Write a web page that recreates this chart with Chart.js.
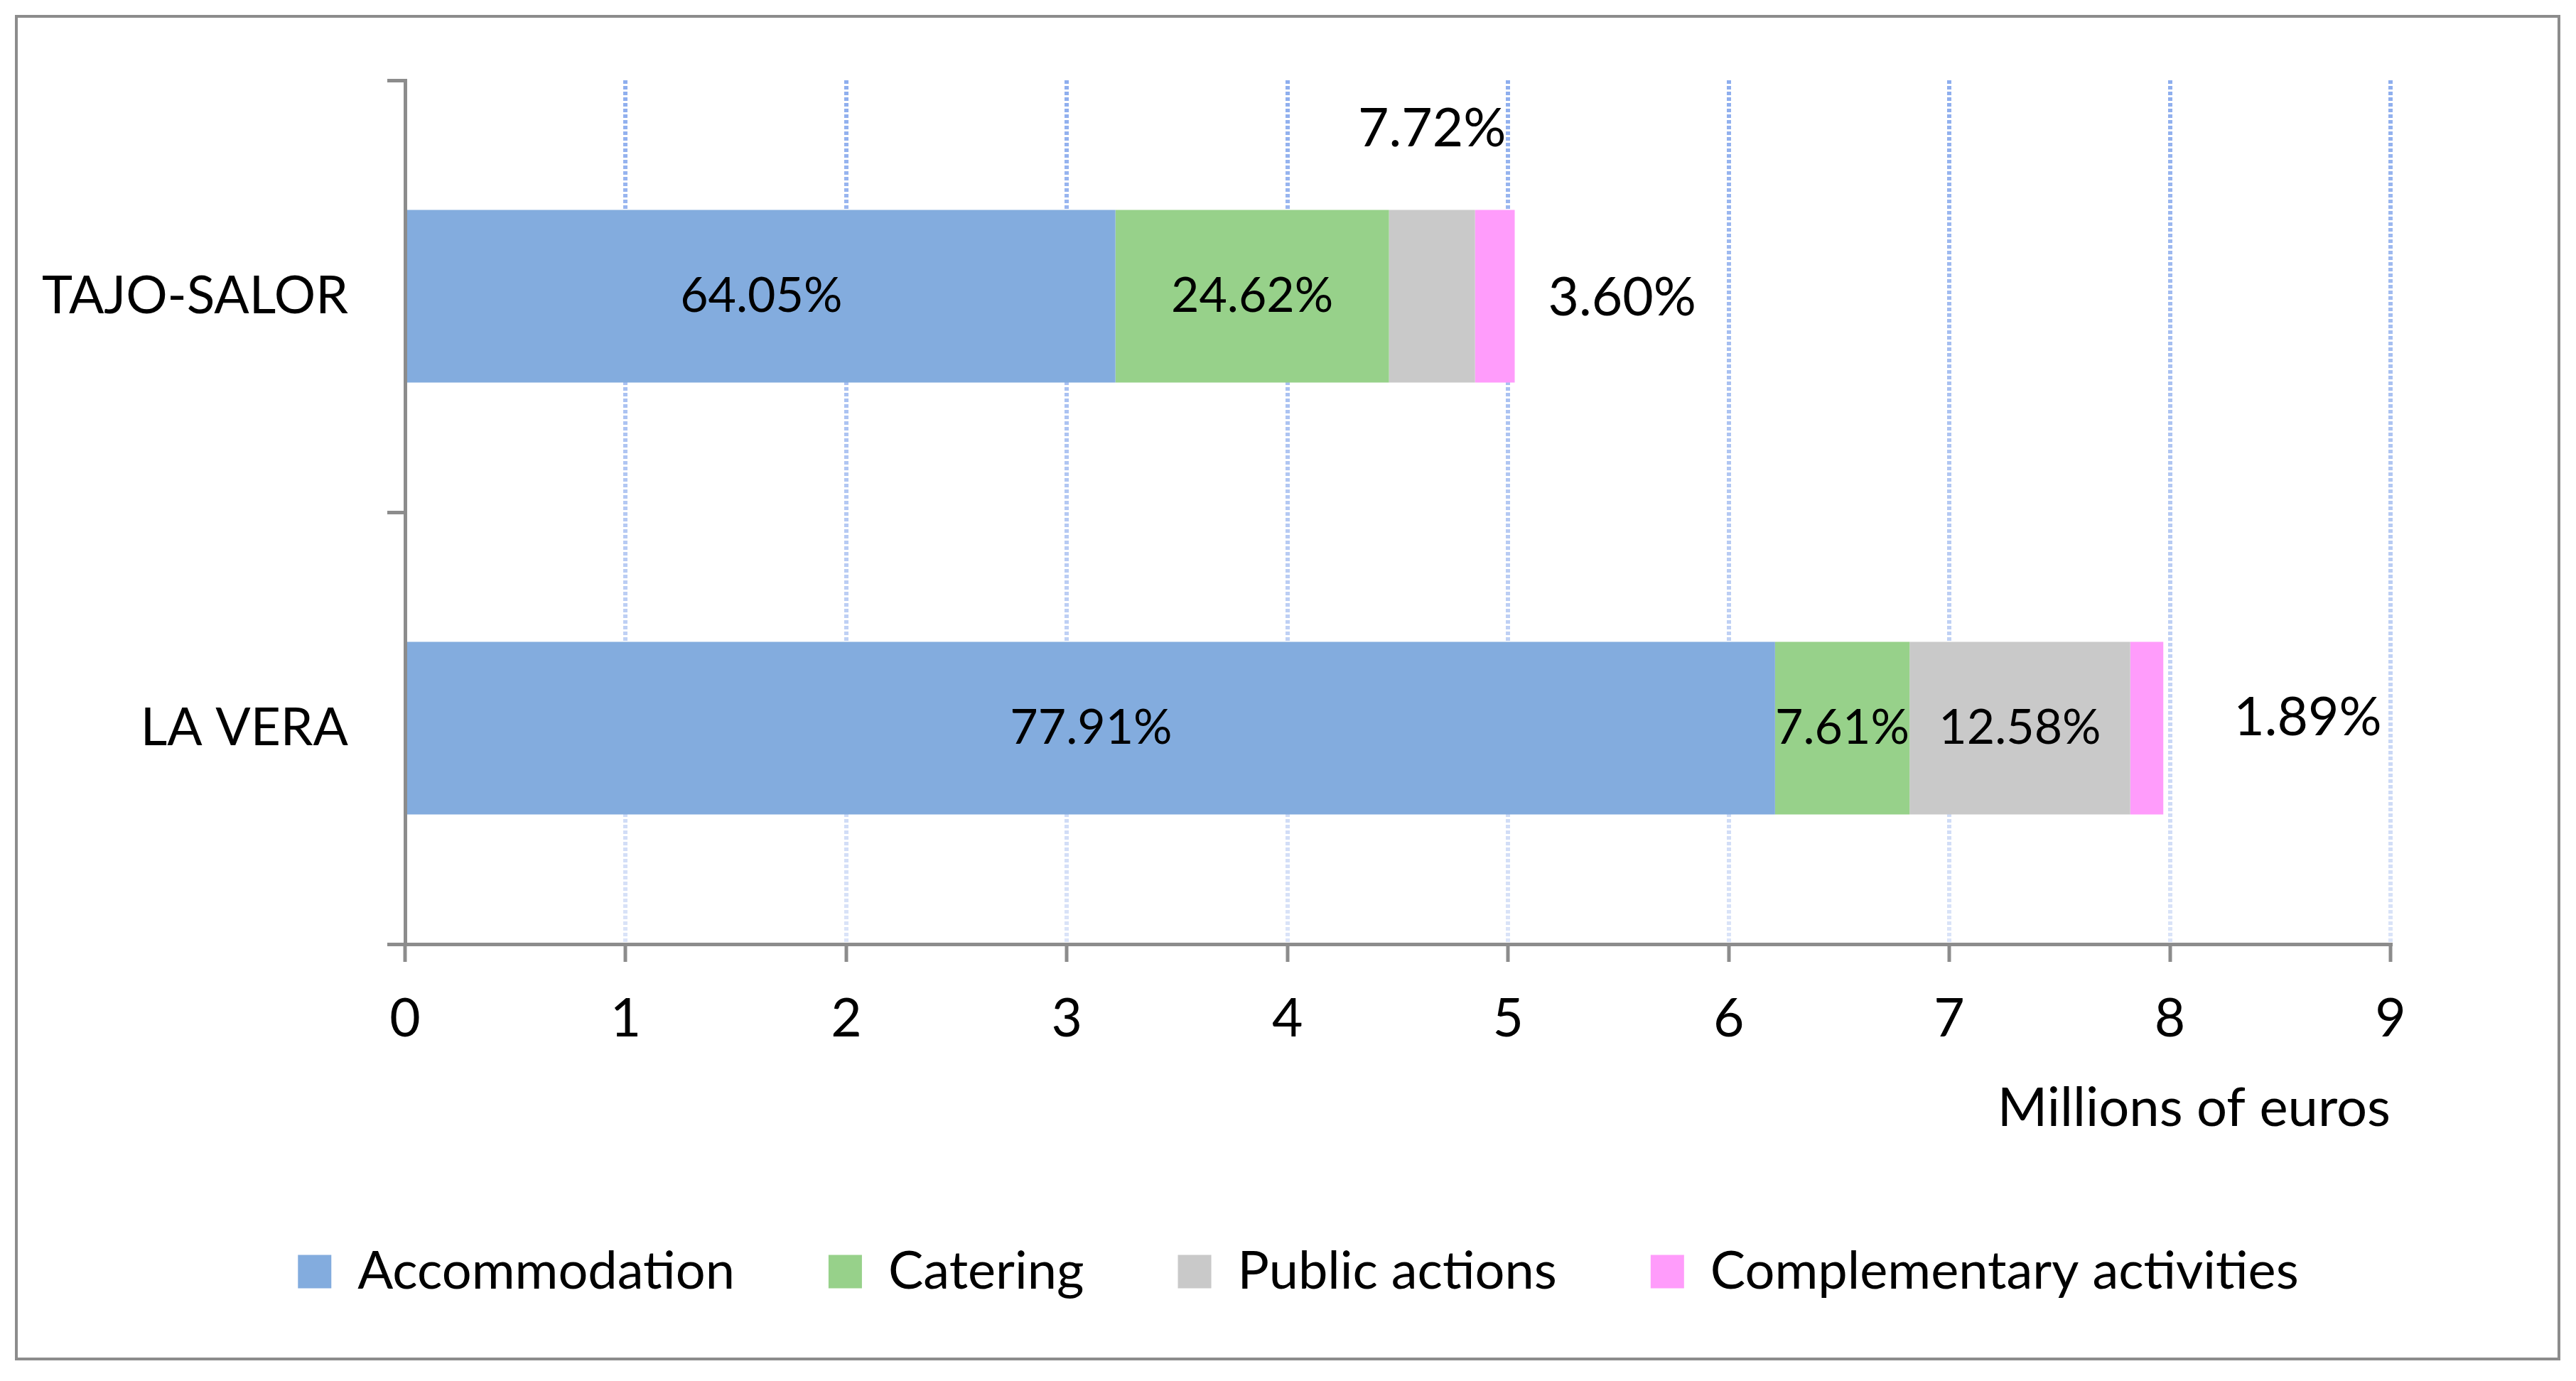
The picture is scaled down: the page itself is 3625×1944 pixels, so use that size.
<!DOCTYPE html>
<html>
<head>
<meta charset="utf-8">
<script src="https://cdn.jsdelivr.net/npm/chart.js@4.4.1/dist/chart.umd.min.js"></script>
<style>
    html, body { margin: 0; padding: 0; background: #fff; }
    #wrap { position: relative; width: 3625px; height: 1944px; }
    #frame { position: absolute; left: 21px; top: 21px; width: 3574px; height: 1886px; border: 4px solid #8c8c8c; }
    canvas { position: absolute; left: 0; top: 0; }
</style>
</head>
<body>
<div id="wrap">
    <canvas id="costChart" width="3625" height="1944"></canvas>
    <div id="frame"></div>
</div>
<script>
//данные
const regions = ['TAJO-SALOR', 'LA VERA'];
const seriesNames = ['Accommodation', 'Catering', 'Public actions', 'Complementary activities'];
const seriesColors = ['#83acde', '#97d18a', '#c9c9c9', '#ff9cfb'];

// millions of euros
const accommodation = [3.22, 6.21];
const catering = [1.24, 0.61];
const publicActions = [0.39, 1.00];
const complementary = [0.18, 0.15];

// share of each region's total, as printed on the bars
const accommodationPct = ['64.05%', '77.91%'];
const cateringPct = ['24.62%', '7.61%'];
const publicPct = ['7.72%', '12.58%'];
const complementaryPct = ['3.60%', '1.89%'];

const xMin = 0;
const xMax = 9;
const xStep = 1;

const seriesValues = [accommodation, catering, publicActions, complementary];
const seriesPct = [accommodationPct, cateringPct, publicPct, complementaryPct];

// где стоит подпись: внутри, над сегментом или справа от полосы
const labelPlaces = [
    ['inside', 'inside'],
    ['inside', 'inside'],
    ['above', 'inside'],
    ['right', 'right']
];
const rightGap = [47, 99];
const rightShift = [3, -14];
const legendCenter = 1827;

Chart.defaults.font.family = 'Lato, "Open Sans", sans-serif';
Chart.defaults.color = '#000';

//подписи процентов
const pctLabels = {
    id: 'pctLabels',
    afterLayout(chart) {
        // легенда по центру рамки, а не области без правого отступа
        const lg = chart.legend;
        const dx = legendCenter - (lg.left + lg.right) / 2;
        lg.left += dx;
        lg.right += dx;
    },
    afterDatasetsDraw(chart) {
        const ctx = chart.ctx;
        ctx.save();
        ctx.fillStyle = '#000';
        ctx.textBaseline = 'middle';
        chart.data.datasets.forEach((ds, di) => {
            const meta = chart.getDatasetMeta(di);
            meta.data.forEach((bar, i) => {
                const p = bar.getProps(['x', 'y', 'base', 'height'], true);
                const text = seriesPct[di][i];
                const mid = (p.x + p.base) / 2;
                const place = labelPlaces[di][i];
                if (place === 'inside') {
                    ctx.font = '68px Lato';
                    ctx.textAlign = 'center';
                    ctx.fillText(text, mid, p.y);
                } else if (place === 'above') {
                    ctx.font = '75px Lato';
                    ctx.textAlign = 'center';
                    ctx.fillText(text, mid, p.y - p.height / 2 - 114);
                } else {
                    ctx.font = '75px Lato';
                    ctx.textAlign = 'left';
                    ctx.fillText(text, p.x + rightGap[i], p.y + rightShift[i]);
                }
            });
        });
        ctx.restore();
    }
};

let gridGradient = null;
function gridColor(c) {
    if (c.index === 0) return 'rgba(0,0,0,0)';
    const area = c.chart.chartArea;
    if (!area) return '#9db7ee';
    if (!gridGradient) {
        gridGradient = c.chart.ctx.createLinearGradient(0, area.top, 0, area.bottom);
        gridGradient.addColorStop(0, '#8eaeee');
        gridGradient.addColorStop(1, '#dbe4f8');
    }
    return gridGradient;
}

const costChart = new Chart(document.getElementById('costChart'), {
    type: 'bar',
    data: {
        labels: regions,
        datasets: seriesNames.map((name, k) => ({
            label: name,
            data: seriesValues[k],
            backgroundColor: seriesColors[k],
            borderWidth: 0,
            categoryPercentage: 1,
            barPercentage: 0.4
        }))
    },
    options: {
        indexAxis: 'y',
        responsive: false,
        devicePixelRatio: 1,
        animation: false,
        layout: {
            padding: { left: 0, top: 113, right: 261, bottom: 107 }
        },
        scales: {
            x: {
                stacked: true,
                min: xMin,
                max: xMax,
                ticks: {
                    stepSize: xStep,
                    padding: 36,
                    font: { size: 75 },
                    color: '#000'
                },
                grid: {
                    color: gridColor,
                    lineWidth: 6,
                    tickLength: 25,
                    tickColor: '#8c8c8c',
                    tickWidth: 5,
                    tickBorderDash: []
                },
                border: {
                    color: '#8c8c8c',
                    width: 5,
                    dash: [5, 3]
                },
                title: {
                    display: true,
                    text: 'Millions of euros',
                    align: 'end',
                    font: { size: 76 },
                    color: '#000',
                    padding: { top: 0, bottom: 15 }
                },
                afterFit(scale) {
                    scale.height = 292;
                }
            },
            y: {
                stacked: true,
                ticks: {
                    padding: 55,
                    font: { size: 73 },
                    color: '#000'
                },
                grid: {
                    drawOnChartArea: false,
                    tickLength: 25,
                    color: '#8c8c8c',
                    lineWidth: 5
                },
                border: {
                    color: '#8c8c8c',
                    width: 5
                },
                afterFit(scale) {
                    scale.width = 570;
                }
            }
        },
        plugins: {
            legend: {
                position: 'bottom',
                labels: {
                    boxWidth: 47,
                    boxHeight: 47,
                    padding: 132,
                    font: { size: 74 },
                    color: '#000'
                }
            },
            tooltip: { enabled: false }
        }
    },
    plugins: [pctLabels]
});
</script>
</body>
</html>
